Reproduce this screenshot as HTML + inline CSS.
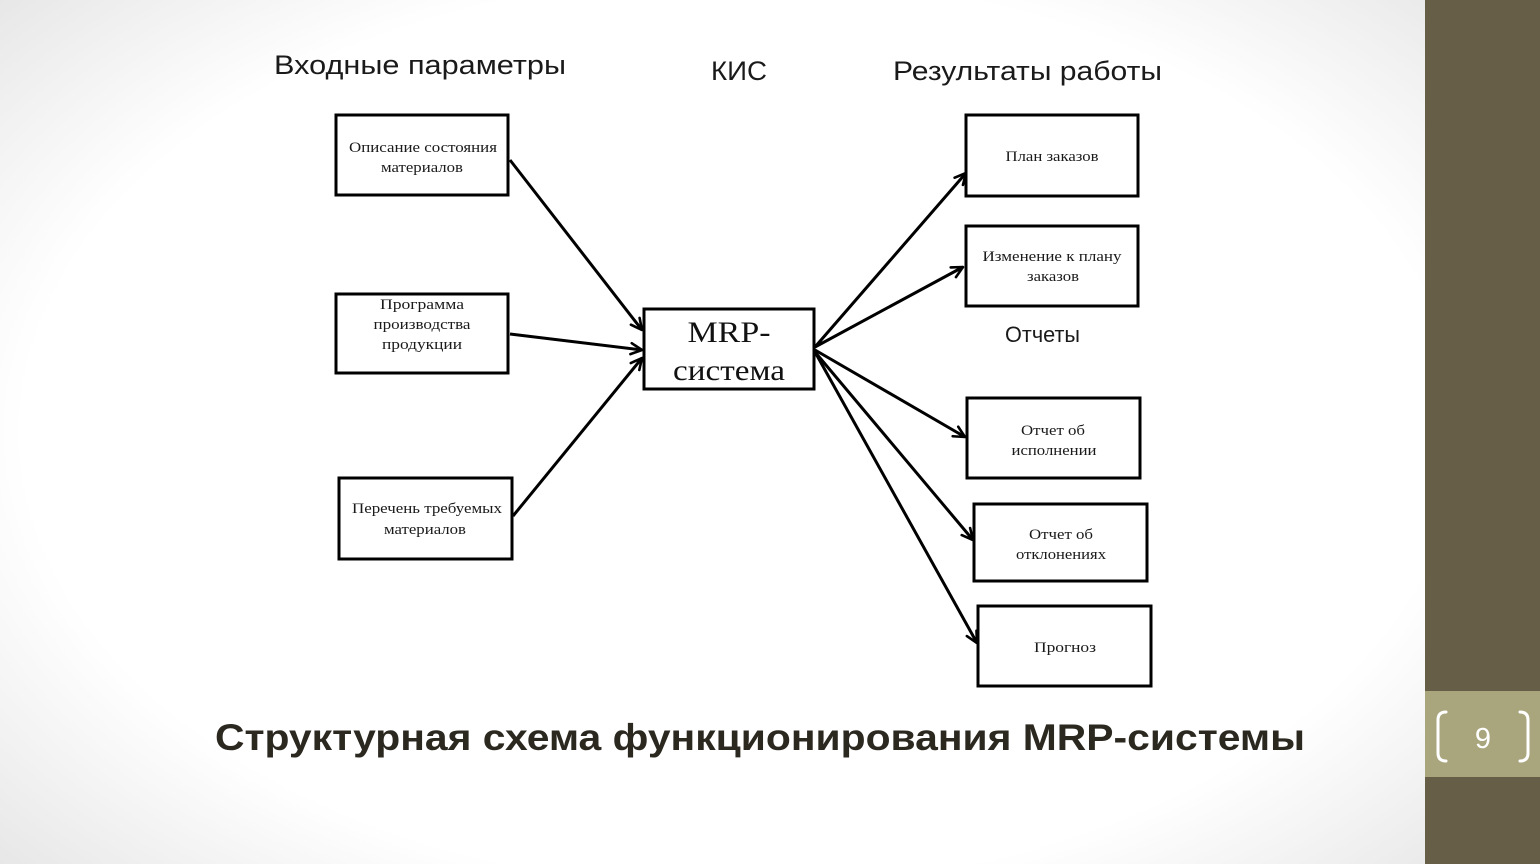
<!DOCTYPE html>
<html><head><meta charset="utf-8">
<style>
html,body{margin:0;padding:0;}
body{width:1540px;height:864px;overflow:hidden;position:relative;
background:radial-gradient(ellipse 75% 85% at 48% 50%, #ffffff 62%, #e6e6e6 88%, #d6d6d6 100%);}
svg{position:absolute;left:0;top:0;}
</style></head>
<body>
<svg width="1540" height="864" viewBox="0 0 1540 864" xmlns="http://www.w3.org/2000/svg">
<defs>
<marker id="ah" viewBox="0 0 14 14" refX="12.5" refY="7" markerWidth="14" markerHeight="14" markerUnits="userSpaceOnUse" orient="auto">
<path d="M1.5,1.5 L12.5,7 L1.5,12.5" fill="none" stroke="#000" stroke-width="2.6" stroke-linecap="round" stroke-linejoin="round"/>
</marker>
</defs>

<!-- sidebar -->
<rect x="1425" y="0" width="115" height="864" fill="#675e48"/>
<rect x="1425" y="691" width="115" height="86" fill="#a9a67e"/>
<path d="M1446,712 Q1438,712 1438,720 L1438,753 Q1438,761 1446,761" fill="none" stroke="#fff" stroke-width="3" stroke-linecap="round"/>
<path d="M1520,712 Q1528,712 1528,720 L1528,753 Q1528,761 1520,761" fill="none" stroke="#fff" stroke-width="3" stroke-linecap="round"/>
<text x="1483" y="748" font-family="Liberation Sans, sans-serif" font-size="29" fill="#fff" text-anchor="middle">9</text>

<!-- headings -->
<g font-family="'Liberation Sans', sans-serif" fill="#1a1a1a">
<text x="274" y="74" font-size="27" textLength="292" lengthAdjust="spacingAndGlyphs">Входные параметры</text>
<text x="711" y="80" font-size="27" textLength="56" lengthAdjust="spacingAndGlyphs">КИС</text>
<text x="893" y="80" font-size="27" textLength="269" lengthAdjust="spacingAndGlyphs">Результаты работы</text>
<text x="1005" y="342" font-size="22" textLength="75" lengthAdjust="spacingAndGlyphs">Отчеты</text>
</g>

<!-- boxes -->
<g fill="#fff" stroke="#000" stroke-width="3">
<rect x="336" y="115" width="172" height="80"/>
<rect x="336" y="294" width="172" height="79"/>
<rect x="339" y="478" width="173" height="81"/>
<rect x="644" y="309" width="170" height="80"/>
<rect x="966" y="115" width="172" height="81"/>
<rect x="966" y="226" width="172" height="80"/>
<rect x="967" y="398" width="173" height="80"/>
<rect x="974" y="504" width="173" height="77"/>
<rect x="978" y="606" width="173" height="80"/>
</g>

<!-- connectors -->
<g stroke="#000" stroke-width="3" fill="none" marker-end="url(#ah)">
<line x1="510" y1="160" x2="642" y2="330"/>
<line x1="510" y1="334" x2="642" y2="350"/>
<line x1="513" y1="516" x2="642" y2="358"/>
<line x1="815" y1="347" x2="966" y2="173"/>
<line x1="815" y1="347" x2="963" y2="267"/>
<line x1="815" y1="350" x2="965" y2="437"/>
<line x1="815" y1="352" x2="973" y2="540"/>
<line x1="815" y1="352" x2="977" y2="643"/>
</g>

<!-- box texts -->
<g font-family="'Liberation Serif', serif" font-size="14.5" fill="#1a1a1a" text-anchor="middle">
<text x="423" y="152" textLength="148" lengthAdjust="spacingAndGlyphs">Описание состояния</text>
<text x="422" y="172" textLength="82" lengthAdjust="spacingAndGlyphs">материалов</text>
<text x="422" y="309" textLength="84" lengthAdjust="spacingAndGlyphs">Программа</text>
<text x="422" y="329" textLength="97" lengthAdjust="spacingAndGlyphs">производства</text>
<text x="422" y="349" textLength="80" lengthAdjust="spacingAndGlyphs">продукции</text>
<text x="427" y="513" textLength="150" lengthAdjust="spacingAndGlyphs">Перечень требуемых</text>
<text x="425" y="534" textLength="82" lengthAdjust="spacingAndGlyphs">материалов</text>
<text x="1052" y="161" textLength="93" lengthAdjust="spacingAndGlyphs">План заказов</text>
<text x="1052" y="261" textLength="139" lengthAdjust="spacingAndGlyphs">Изменение к плану</text>
<text x="1053" y="281" textLength="52" lengthAdjust="spacingAndGlyphs">заказов</text>
<text x="1053" y="435" textLength="64" lengthAdjust="spacingAndGlyphs">Отчет об</text>
<text x="1054" y="455" textLength="85" lengthAdjust="spacingAndGlyphs">исполнении</text>
<text x="1061" y="539" textLength="64" lengthAdjust="spacingAndGlyphs">Отчет об</text>
<text x="1061" y="559" textLength="90" lengthAdjust="spacingAndGlyphs">отклонениях</text>
<text x="1065" y="652" textLength="62" lengthAdjust="spacingAndGlyphs">Прогноз</text>
</g>

<g font-family="'Liberation Serif', serif" font-size="30" fill="#111" text-anchor="middle">
<text x="729" y="342" textLength="83" lengthAdjust="spacingAndGlyphs">MRP-</text>
<text x="729" y="380" textLength="112" lengthAdjust="spacingAndGlyphs">система</text>
</g>

<!-- caption -->
<text x="215" y="750" font-family="'Liberation Sans', sans-serif" font-weight="bold" font-size="37" fill="#2b2820" textLength="1090" lengthAdjust="spacingAndGlyphs">Структурная схема функционирования MRP-системы</text>
</svg>
</body></html>
